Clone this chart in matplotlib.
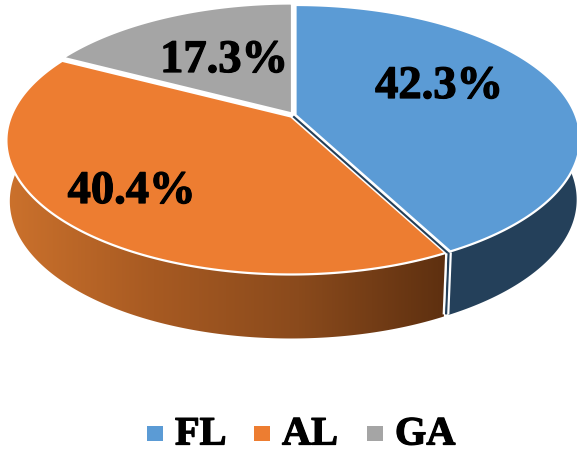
import numpy as np
import matplotlib
matplotlib.use('Agg')
import matplotlib.pyplot as plt
import matplotlib.patheffects as pe
from matplotlib.colors import LinearSegmentedColormap
from matplotlib.patches import Polygon, Rectangle

categories = ['FL', 'AL', 'GA']
shares = [42.3, 40.4, 17.3]
top_colors = ['#5b9bd5', '#ed7d31', '#a5a5a5']
label_pos = [(439, 87), (131.5, 192), (224, 61)]
legend_box_x = [147, 254, 367]
legend_text_x = [175, 282, 395]

# pie geometry in pixels, perspective circle -> ellipse
cx, cy = 293, 139
a, b, c, k = 280, 134, -24, 0.179

def project(theta):
    # theta clockwise from 12 o'clock
    u = np.sin(theta)
    v = -np.cos(theta)
    w = 1 - k * v
    return cx + a * u / w, cy + (b * v + c) / w

def wall(theta, dx, dy):
    # outline of the side wall for one arc
    x, y = project(theta)
    xb = cx + (x - cx) * 0.988 + dx
    yb = y + 60 + 4 * (-np.cos(theta)) + dy
    xs = np.concatenate([x + dx, xb[::-1]])
    ys = np.concatenate([y + dy, yb[::-1]])
    return np.column_stack([xs, ys])

fig = plt.figure(figsize=(5.77, 4.49), dpi=100)
ax = fig.add_axes([0, 0, 1, 1])

edges = np.radians(np.cumsum([0] + shares) * 3.6)
shift = [(2.5, 0), (-2, 1.5), (-1, -1.5)]
navy_side = '#24405a'
orange_side = LinearSegmentedColormap.from_list('o', ['#cb712c', '#a75a22', '#8a4a1c', '#5e3010'])

# FL wall
th = np.linspace(edges[0], edges[1], 200)
ax.add_patch(Polygon(wall(th, shift[0][0], shift[0][1]), closed=True, fc=navy_side, ec='none', zorder=2))

# AL wall with a left to right gradient
th = np.linspace(edges[1], edges[2], 300)
al_wall = Polygon(wall(th, shift[1][0], shift[1][1]), closed=True, fc='none', ec='none', zorder=2)
ax.add_patch(al_wall)
grad = ax.imshow(np.linspace(0, 1, 256).reshape(1, -1), cmap=orange_side, aspect='auto',
                 extent=(8, 445, 449, 0), zorder=2)
grad.set_clip_path(al_wall)

ax.set_xlim(0, 577)
ax.set_ylim(449, 0)
ax.axis('off')

# lines at the FL/AL cut
xe, ye = project(edges[1])
ax.plot([xe + 3, xe + 0.5], [ye + 1, ye + 63], color='white', lw=1.6, zorder=3, solid_capstyle='butt')
ax.plot([xe + 0.8, xe - 1.7], [ye + 1, ye + 63], color=navy_side, lw=1.6, zorder=3, solid_capstyle='butt')
ax.plot([xe - 1.6, xe - 4.1], [ye + 2, ye + 63], color='white', lw=1.5, zorder=3, solid_capstyle='butt')

# top faces
apex = (cx, cy + c)
for i in range(3):
    th = np.linspace(edges[i], edges[i + 1], 200)
    x, y = project(th)
    pts = [apex] + list(zip(x, y))
    pts = [(p[0] + shift[i][0], p[1] + shift[i][1]) for p in pts]
    ax.add_patch(Polygon(pts, closed=True, fc=top_colors[i], ec='white', lw=1.6, zorder=4, joinstyle='miter'))

# dark sliver of the FL cut face
ax.plot([apex[0] + 1, xe - 0.5], [apex[1] + 2, ye + 1], color=navy_side, lw=1.5, zorder=5)

serif = 'Liberation Serif'
thick = [pe.withStroke(linewidth=0.9, foreground='black')]
for i, cat in enumerate(categories):
    ax.text(label_pos[i][0], label_pos[i][1], '%.1f%%' % shares[i], family=serif, weight='bold',
            fontsize=33.5, color='black', ha='center', va='center', zorder=6, path_effects=thick)
    ax.add_patch(Rectangle((legend_box_x[i], 426), 15.5, 15, fc=top_colors[i], ec='none'))
    ax.text(legend_text_x[i], 444.5, cat, family=serif, weight='bold', fontsize=29,
            color='black', ha='left', va='baseline', path_effects=thick)

fig.savefig('out.png', dpi=100)
